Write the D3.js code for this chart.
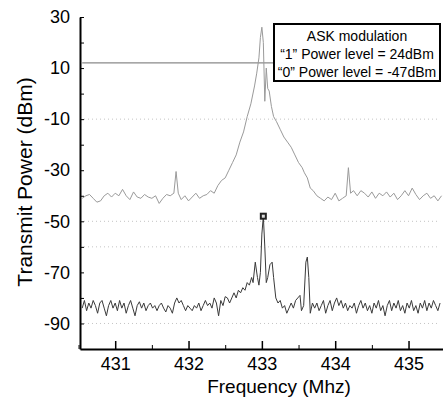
<!DOCTYPE html>
<html>
<head>
<meta charset="utf-8">
<script src="https://cdn.jsdelivr.net/npm/d3@7"></script>
<style>
  body { margin: 0; background: #fff; }
  svg { display: block; font-family: "Liberation Sans", Arial, sans-serif; }
</style>
</head>
<body>
<div id="chart"></div>
<script>
// "1" level trace (gray): [frequency MHz, power dBm]
const highTrace = [
  [430.55,-41],[430.60,-40],[430.65,-39.5],[430.70,-41],[430.75,-42.5],[430.80,-42],[430.85,-40],[430.90,-39],
  [430.95,-40.5],[431.00,-39],[431.05,-40],[431.10,-37.5],[431.15,-40],[431.20,-41.5],[431.25,-38.5],[431.30,-40.5],
  [431.35,-41],[431.40,-39.5],[431.45,-40.5],[431.50,-41],[431.55,-40],[431.60,-43],[431.65,-41],[431.70,-39.5],
  [431.75,-40],[431.80,-39],[431.83,-30.5],[431.86,-39],[431.90,-41.5],[431.95,-40],[432.00,-42],[432.05,-40.5],
  [432.10,-39],[432.15,-41],[432.20,-40],[432.25,-39.5],[432.30,-38],[432.35,-39],[432.40,-36],[432.45,-34],
  [432.50,-33],[432.55,-30],[432.60,-27],[432.65,-24],[432.70,-19],[432.75,-15],[432.80,-9],[432.85,-4],
  [432.90,3],[432.93,8],[432.96,14],[432.98,22],[433.00,26],[433.02,20],[433.04,-3],[433.06,10],
  [433.08,2],[433.10,1],[433.13,-5],[433.16,-9],[433.20,-11],[433.25,-14],[433.30,-17],[433.35,-19],
  [433.40,-21],[433.45,-24],[433.50,-27],[433.55,-29],[433.58,-31],[433.62,-33],[433.66,-37],[433.70,-38],
  [433.75,-40],[433.80,-41],[433.85,-42],[433.90,-40.5],[433.95,-41.5],[434.00,-39],[434.05,-42],[434.10,-41],
  [434.15,-40],[434.18,-29],[434.21,-39],[434.25,-38],[434.30,-40],[434.35,-38],[434.40,-39],[434.45,-40.5],
  [434.50,-38.5],[434.55,-41],[434.60,-39],[434.65,-40],[434.70,-38.5],[434.75,-40.5],[434.80,-39],[434.85,-41.5],
  [434.90,-40],[434.95,-38],[435.00,-40],[435.05,-37],[435.10,-39.5],[435.15,-41.5],[435.20,-40],[435.25,-39],
  [435.30,-41],[435.35,-40],[435.40,-42],[435.45,-40]
];

// "0" level trace (black)
const lowTrace = [
  [430.55,-84],[430.58,-81],[430.61,-85],[430.64,-82],[430.67,-84],[430.70,-81],[430.73,-83],[430.76,-86],
  [430.79,-82],[430.82,-81],[430.85,-84],[430.88,-87],[430.91,-83],[430.94,-81],[430.97,-84],[431.00,-82],
  [431.03,-85],[431.06,-81],[431.09,-84],[431.12,-82],[431.15,-86],[431.18,-83],[431.21,-81],[431.24,-84],
  [431.27,-87],[431.30,-83],[431.33,-81.5],[431.36,-84],[431.39,-82],[431.42,-85],[431.45,-83],[431.48,-82],
  [431.51,-84],[431.54,-83],[431.57,-85],[431.60,-83],[431.63,-82],[431.66,-84],[431.69,-85.5],[431.72,-83],
  [431.75,-84],[431.78,-86],[431.81,-82],[431.84,-80],[431.87,-82],[431.90,-81],[431.93,-83],[431.96,-85],
  [431.99,-83],[432.02,-84],[432.05,-85],[432.08,-83],[432.11,-84],[432.14,-82],[432.17,-85],[432.20,-83],
  [432.23,-81],[432.26,-83],[432.29,-82],[432.32,-84],[432.35,-80],[432.38,-82],[432.41,-87],[432.44,-81],
  [432.47,-83],[432.50,-79.5],[432.53,-80],[432.56,-82],[432.59,-80],[432.62,-78],[432.65,-80],[432.68,-77],
  [432.71,-78],[432.74,-76],[432.77,-77],[432.80,-74],[432.83,-75],[432.86,-72],[432.88,-74],[432.91,-66],
  [432.94,-72],[432.96,-75],[432.98,-70],[433.00,-55],[433.02,-48],[433.04,-60],[433.06,-74],[433.08,-72],
  [433.11,-67],[433.14,-66],[433.16,-72],[433.19,-80],[433.22,-82],[433.25,-81],[433.28,-84],[433.31,-83],
  [433.34,-86],[433.37,-84],[433.40,-82],[433.43,-84],[433.46,-81],[433.49,-80],[433.52,-79],[433.54,-85],
  [433.57,-83],[433.60,-66],[433.62,-64],[433.64,-72],[433.66,-86],[433.69,-82],[433.72,-84],[433.75,-82],
  [433.78,-85],[433.81,-83],[433.84,-81],[433.87,-86],[433.90,-83],[433.93,-81],[433.96,-85],[433.99,-82],
  [434.02,-80],[434.05,-83],[434.08,-81],[434.11,-84],[434.14,-82],[434.17,-85],[434.20,-83],[434.23,-84],
  [434.26,-82],[434.29,-86],[434.32,-83],[434.35,-81],[434.38,-84],[434.41,-82],[434.44,-85],[434.47,-83],
  [434.50,-86],[434.53,-82],[434.56,-84],[434.59,-81],[434.62,-85],[434.65,-83],[434.68,-87],[434.71,-83],
  [434.74,-81],[434.77,-85],[434.80,-82],[434.83,-84],[434.86,-81],[434.89,-85],[434.92,-83],[434.95,-86],
  [434.98,-82],[435.01,-84],[435.04,-81],[435.07,-85],[435.10,-83],[435.13,-86],[435.16,-82],[435.19,-84],
  [435.22,-81],[435.25,-85],[435.28,-82],[435.31,-84],[435.34,-81],[435.37,-83],[435.40,-85],[435.43,-82]
];

const xMajorTicks = [431, 432, 433, 434, 435];
const xMinorTicks = [430.5, 431.5, 432.5, 433.5, 434.5];
const yLabelTicks = [30, 10, -10, -30, -50, -70, -90];
const yAllTicks = [30, 20, 10, 0, -10, -20, -30, -40, -50, -60, -70, -80, -90];
const gridLevels = [-10, -50, -60, -90];
const refLevel = 12;            // horizontal reference line (dBm)
const peakMarker = [433.02, -48];
const legendLines = ["ASK modulation", "\u201C1\u201D Power level = 24dBm", "\u201C0\u201D Power level = -47dBm"];

const W = 443, H = 398;
const svg = d3.select("#chart").append("svg").attr("width", W).attr("height", H);

const x = d3.scaleLinear().domain([430.52, 435.47]).range([80, 443]);
const y = d3.scaleLinear().domain([-100, 30]).range([349, 17]);

// faint dotted grid
svg.append("g").selectAll("line")
  .data(gridLevels)
  .enter().append("line")
    .attr("x1", 84).attr("x2", 440)
    .attr("y1", d => y(d)).attr("y2", d => y(d))
    .attr("stroke", "#c4c4c4")
    .attr("stroke-dasharray", "1,3");

// reference line
svg.append("line")
  .attr("x1", x(430.55)).attr("x2", 274)
  .attr("y1", y(refLevel)).attr("y2", y(refLevel))
  .attr("stroke", "#8a8a8a").attr("stroke-width", 1.2);

const line = d3.line().x(d => x(d[0])).y(d => y(d[1]));

svg.append("path").datum(highTrace)
  .attr("d", line)
  .attr("fill", "none")
  .attr("stroke", "#9a9a9a")
  .attr("stroke-width", 1);

svg.append("path").datum(lowTrace)
  .attr("d", line)
  .attr("fill", "none")
  .attr("stroke", "#3a3a3a")
  .attr("stroke-width", 1);

// marker at the "0" peak
svg.append("rect")
  .attr("x", x(peakMarker[0]) - 3.5).attr("y", y(peakMarker[1]) - 3.5)
  .attr("width", 7).attr("height", 7)
  .attr("fill", "#222");
svg.append("rect")
  .attr("x", x(peakMarker[0]) - 1.5).attr("y", y(peakMarker[1]) - 1.5)
  .attr("width", 3).attr("height", 3)
  .attr("fill", "#ddd");

// x axis
const xAxis = svg.append("g")
  .attr("transform", "translate(0," + y(-100) + ")")
  .call(d3.axisBottom(x).tickValues(xMajorTicks).tickFormat(d3.format("d"))
    .tickSize(-8).tickSizeOuter(0).tickPadding(8));
xAxis.select(".domain").attr("stroke-width", 2);
xAxis.selectAll(".tick line").attr("stroke-width", 1.5);
xAxis.selectAll("text").attr("font-size", 18).attr("fill", "#000").attr("font-family", null);

svg.append("g")
  .attr("transform", "translate(0," + y(-100) + ")")
  .call(d3.axisBottom(x).tickValues(xMinorTicks).tickFormat("").tickSize(-4).tickSizeOuter(0))
  .call(g => g.select(".domain").remove());

// y axis
const yAxis = svg.append("g")
  .attr("transform", "translate(" + x.range()[0] + ",0)")
  .call(d3.axisLeft(y).tickValues(yAllTicks)
    .tickFormat(d => yLabelTicks.includes(d) ? d : "")
    .tickSize(-4).tickSizeOuter(0).tickPadding(10));
yAxis.select(".domain").attr("stroke-width", 2);
yAxis.selectAll("text").attr("font-size", 18).attr("fill", "#000").attr("font-family", null);

// axis titles
svg.append("text")
  .attr("x", 279).attr("y", 393)
  .attr("text-anchor", "middle")
  .attr("font-size", 19)
  .text("Frequency (Mhz)");

svg.append("text")
  .attr("transform", "translate(32,182) rotate(-90)")
  .attr("text-anchor", "middle")
  .attr("font-size", 21)
  .text("Transmit Power (dBm)");

// legend box
svg.append("rect")
  .attr("x", 274).attr("y", 24)
  .attr("width", 166).attr("height", 57)
  .attr("fill", "none")
  .attr("stroke", "#000")
  .attr("stroke-width", 2);

svg.append("g").selectAll("text")
  .data(legendLines)
  .enter().append("text")
    .attr("x", 357)
    .attr("y", (d, i) => 41 + i * 18)
    .attr("text-anchor", "middle")
    .attr("font-size", 14)
    .text(d => d);
</script>
</body>
</html>
